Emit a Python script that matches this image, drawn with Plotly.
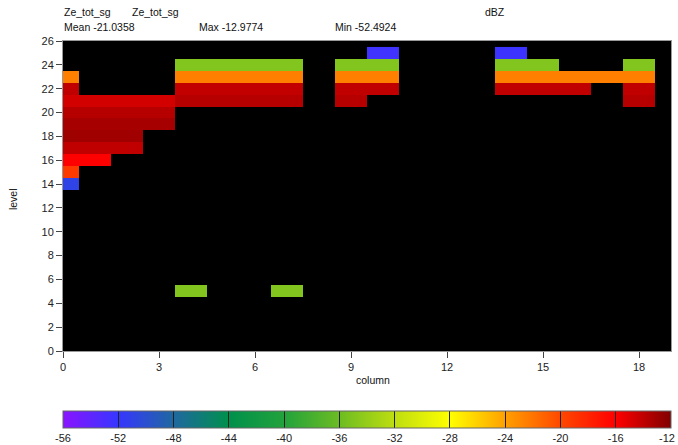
import plotly.graph_objects as go

N = None
columns = list(range(19))
levels = list(range(26))

# values (dBZ) per level, 19 columns (0..18); None = no data
lvl25 = [N, N, N, N, N, N, N, N, N, N, -52.49, N, N, N, -52.3, N, N, N, N]
lvl24 = [N, N, N, N, -35.0, -35.0, -35.0, -35.0, N, -35.0, -35.0, N, N, N, -35.0, -35.0, N, N, -35.0]
lvl23 = [-22.5, N, N, N, -22.5, -22.5, -22.5, -22.5, N, -22.5, -22.5, N, N, N, -22.5, -22.5, -22.5, -22.5, -22.5]
lvl22 = [-14.0, N, N, N, -14.1, -14.1, -14.1, -14.1, N, -14.0, -14.0, N, N, N, -14.0, -14.0, -14.0, N, -14.0]
lvl21 = [-14.6, -14.6, -14.6, -14.6, -13.7, -13.7, -13.7, -13.7, N, -13.7, N, N, N, N, N, N, N, N, -13.7]
lvl20 = [-13.7, -13.7, -13.7, -13.7] + [N] * 15
lvl19 = [-13.2, -13.2, -13.2, -13.2] + [N] * 15
lvl18 = [-12.98, -13.0, -13.0] + [N] * 16
lvl17 = [-14.0, -14.0, -14.0] + [N] * 16
lvl16 = [-16.0, -16.0] + [N] * 17
lvl15 = [-19.2] + [N] * 18
lvl14 = [-51.0] + [N] * 18
lvl5 = [N, N, N, N, -35.0, N, N, -35.0] + [N] * 11
empty = [N] * 19

rows = {25: lvl25, 24: lvl24, 23: lvl23, 22: lvl22, 21: lvl21, 20: lvl20,
        19: lvl19, 18: lvl18, 17: lvl17, 16: lvl16, 15: lvl15, 14: lvl14, 5: lvl5}
z = [rows.get(l, empty) for l in levels]

stat_mean = "-21.0358"
stat_max = "-12.9774"
stat_min = "-52.4924"
cb_ticks = list(range(-56, -11, 4))
zmin, zmax = -56, -12

cs_vals = [-56, -52, -48, -44, -40, -36, -32, -28, -24, -20, -16, -12]
cs_cols = ["#8a14ff", "#3636ff", "#1f68a0", "#00904c", "#22a23c", "#6cbc22",
           "#bede10", "#ffff00", "#ffa000", "#ff4800", "#ff0000", "#800000"]
colorscale = [[(v - zmin) / (zmax - zmin), c] for v, c in zip(cs_vals, cs_cols)]

FONT = "Liberation Sans, Arial, sans-serif"

# last colorbar label is drawn as an annotation so it stays inside the page
cb_text = [str(v) for v in cb_ticks[:-1]] + [""]

fig = go.Figure()
fig.add_trace(go.Heatmap(
    x=columns, y=levels, z=z, zmin=zmin, zmax=zmax, colorscale=colorscale,
    zsmooth=False, hoverongaps=False,
    colorbar=dict(orientation="h", lenmode="pixels", len=608, thickness=17,
                  x=0, xanchor="left", xpad=0, y=-0.1935, yanchor="top", ypad=0,
                  tickvals=cb_ticks, ticktext=cb_text, ticks="inside", ticklen=17,
                  tickwidth=1, tickcolor="#222", ticklabeloverflow="allow",
                  outlinewidth=1, outlinecolor="#666",
                  tickfont=dict(family=FONT, size=11, color="#222")),
))

axis_common = dict(showgrid=False, zeroline=False, ticks="outside", ticklen=6,
                   tickcolor="#444", showline=True, linecolor="#999", linewidth=1,
                   mirror=True, tickfont=dict(family=FONT, size=11, color="#222"))
fig.update_xaxes(range=[0, 19], tickvals=list(range(0, 19, 3)), **axis_common)
fig.update_yaxes(range=[0, 26], tickvals=list(range(0, 27, 2)), **axis_common)

ann_font = dict(family=FONT, size=10.5, color="#111")
texts = [
    ("Ze_tot_sg", -0.0016, 1.0935), ("Ze_tot_sg", 0.110, 1.0935), ("dBZ", 0.691, 1.0935),
    ("Mean " + stat_mean, -0.0016, 1.045), ("Max " + stat_max, 0.2204, 1.045),
    ("Min " + stat_min, 0.4445, 1.045),
]
for t, xp, yp in texts:
    fig.add_annotation(text=t, x=xp, y=yp, xref="paper", yref="paper",
                       xanchor="left", yanchor="middle", showarrow=False, font=ann_font)
fig.add_annotation(text="column", x=0.51, y=-0.0935, xref="paper", yref="paper",
                   xanchor="center", yanchor="middle", showarrow=False, font=ann_font)
fig.add_annotation(text="level", x=-0.0822, y=0.49, xref="paper", yref="paper",
                   xanchor="center", yanchor="middle", showarrow=False, textangle=-90,
                   font=ann_font)
fig.add_annotation(text=str(cb_ticks[-1]), x=1.0095, y=-0.2815, xref="paper", yref="paper",
                   xanchor="right", yanchor="middle", showarrow=False,
                   font=dict(family=FONT, size=11, color="#222"))

fig.update_layout(width=678, height=445,
                  margin=dict(l=63, r=7, t=41, b=94, autoexpand=False),
                  plot_bgcolor="black", paper_bgcolor="white", showlegend=False)
fig.write_html("out.html")
